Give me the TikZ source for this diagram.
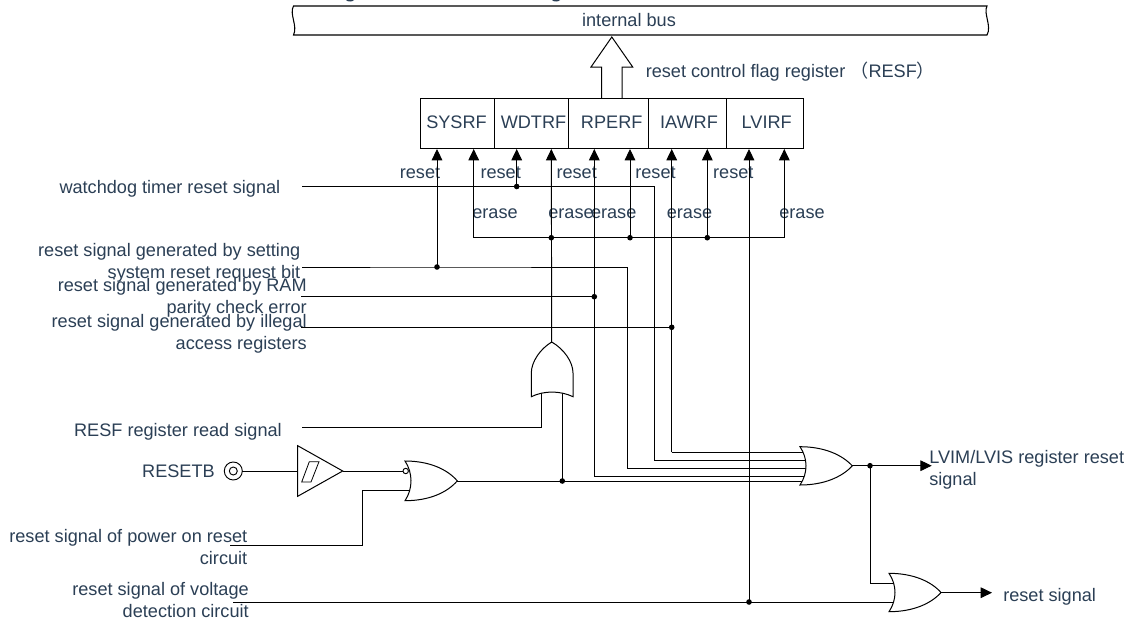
\documentclass[tikz,border=0pt]{standalone}
\usepackage{fontspec}
\setmainfont{Liberation Sans}
\newfontfamily\cjkfont{Noto Sans CJK SC}
\usetikzlibrary{arrows.meta,calc}
\definecolor{txt}{HTML}{2B3F55}
\newcommand{\orgateH}[4]{% xleft, ytop, ybottom, xapex
  \draw[gate] (#1,#2) .. controls ({#1+24},#2) and ({#1+42},{#2+8}) .. (#4,{(#2+#3)/2})
    .. controls ({#1+42},{#3-8}) and ({#1+24},#3) .. (#1,#3)
    .. controls ({#1+8},{#3-12}) and ({#1+8},{#2+12}) .. (#1,#2) -- cycle;}
\tikzset{
  x=0.75pt,y=-0.75pt,
  wire/.style={draw=black,line width=0.7pt},
  arrowwire/.style={wire,-{Triangle[length=8.5pt,width=8pt]}},
  gate/.style={draw=black,line width=0.75pt,fill=white},
  dotj/.style={circle,fill=black,inner sep=0pt,minimum size=4.2pt},
  lab/.style={inner sep=0pt,text=txt,font=\fontsize{13.6}{16.5}\selectfont},
  labr/.style={lab,anchor=east,align=right},
  labl/.style={lab,anchor=west,align=left},
  labc/.style={lab,anchor=center},
}
\begin{document}
\begin{tikzpicture}
\useasboundingbox (0,0) rectangle (1137,621);
\fill[white] (0,0) rectangle (1137,621);

% clipped remains of a heading at the top edge
\fill[txt] (346,0) .. controls (347,2) and (353,2) .. (354,0) -- cycle;
\fill[txt] (552,0) .. controls (553,2) and (559,2) .. (560,0) -- cycle;

% bus
\draw[line width=0.8pt,fill=white] (293.5,6) -- (987,6)
  .. controls (983,13) and (992,26) .. (987,35) -- (293.5,35)
  .. controls (298,26) and (289,14) .. (293.5,6) -- cycle;
\node[labc] (bus) at (629,20) {internal bus};

% block arrow
\draw[line width=0.75pt,fill=white] (601.7,98) -- (601.7,67) -- (591,67) -- (611.8,37)
  -- (632.7,67) -- (622,67) -- (622,98);
\node[labl] (rcf) at (645.5,72) {reset control flag register {\cjkfont （}RESF{\cjkfont ）}};

% register
\draw[wire] (420.3,98) rectangle (803.7,148.7);
\foreach \xx in {494,568.7,648.7,726} \draw[wire] (\xx,98) -- (\xx,148.7);
\node[labc] (sysrf) at (456.5,122) {SYSRF};
\node[labc] (wdtrf) at (533.5,122) {WDTRF};
\node[labc] (rperf) at (611.7,122) {RPERF};
\node[labc] (iawrf) at (689,122) {IAWRF};
\node[labc] (lvirf) at (766.7,122) {LVIRF};

% register pins
\coordinate (pA) at (437,149);
\coordinate (pB) at (473.7,149);
\coordinate (pC) at (516.7,149);
\coordinate (pD) at (551.3,149);
\coordinate (pE) at (594.3,149);
\coordinate (pF) at (630,149);
\coordinate (pG) at (671.7,149);
\coordinate (pH) at (707.3,149);
\coordinate (pI) at (749,149);
\coordinate (pJ) at (784.3,149);

% reset / erase labels
\foreach \xx in {420,500.7,576.7,655.5,733.3} \node[labc] at (\xx,173) {reset};
\foreach \xx in {495,571,613.7,689.5,802} \node[labc] at (\xx,213.5) {erase};

% signal labels
\node[labr] (lwd) at (280.5,189) {watchdog timer reset signal};
\node[labr] (lsys) at (300.5,263) {reset signal generated by setting\\system reset request bit};
\node[labr] (lram) at (307,298) {reset signal generated by RAM\\parity check error};
\node[labr] (lill) at (307,334) {reset signal generated by illegal\\access registers};
\node[labr] (lrd) at (282,432) {RESF register read signal};
\node[labr] (lrb) at (215,471) {RESETB};
\node[labr] (lpor) at (247.5,547.5) {reset signal of power on reset\\circuit};
\node[labr] (lvd) at (249,600) {reset signal of voltage\\detection circuit};
\node[labl] (llvim) at (929,470) {LVIM/LVIS register reset\\signal};
\node[labl] (lrs) at (1003,597) {reset signal};

% start points
\coordinate (sWd) at (302,186.5);
\coordinate (sSys) at (302,267);
\coordinate (sRam) at (301,296.7);
\coordinate (sIll) at (301,327.3);
\coordinate (sRd) at (302,427.3);
\coordinate (sPor) at (230,545);
\coordinate (sVd) at (233,602);

% junctions
\coordinate (jWd) at (516.7,186.5);
\coordinate (jSys) at (437,267);
\coordinate (jRam) at (594.3,296.7);
\coordinate (jIll) at (671.7,327.3);
\coordinate (jE0) at (473.7,237.7);
\coordinate (jE1) at (551.3,237.7);
\coordinate (jE2) at (630,237.7);
\coordinate (jE3) at (707.3,237.7);
\coordinate (jE4) at (784.3,237.7);
\coordinate (jOut) at (562.3,481);
\coordinate (jMain) at (870,465.7);
\coordinate (jVd) at (749,602);

% gate pins
\coordinate (oTop) at (551.7,342);
\coordinate (oL) at (541.7,393);
\coordinate (oR) at (562.3,393);
\coordinate (nIn1) at (403,471);
\coordinate (nIn2) at (409.5,490.7);
\coordinate (nOut) at (457.3,481);
\coordinate (mA) at (803,452.3);
\coordinate (mB) at (805,460.7);
\coordinate (mC) at (805.5,468.3);
\coordinate (mD) at (805,476);
\coordinate (mE) at (803,481);
\coordinate (mOut) at (852.3,465.7);
\coordinate (tIn1) at (892.5,583);
\coordinate (tIn2) at (892.5,602);
\coordinate (tOut) at (941,592.7);
\coordinate (aLvim) at (931.7,465.7);
\coordinate (aRs) at (992,592.7);
\coordinate (rb) at (242.3,471);
\coordinate (bufIn) at (297.7,471);
\coordinate (bufOut) at (342.7,471);

% wires to register
\draw[wire] (sWd) -- (jWd) -- (654.3,186.5) |- (mB);
\draw[arrowwire] (jWd) -- (pC);
\draw[wire] (sSys) -- (jSys) -- (627.3,267) |- (mC);
\draw[arrowwire] (jSys) -- (pA);
\draw[wire] (sRam) -- (jRam);
\draw[arrowwire] (jRam |- mD) -- (pE);
\draw[wire] (jRam |- mD) -- (mD);
\draw[wire] (sIll) -- (jIll);
\draw[arrowwire] (jIll |- mA) -- (pG);
\draw[wire] (jIll |- mA) -- (mA);
\draw[wire] (jE0) -- (jE4);
\draw[arrowwire] (jE0) -- (pB);
\draw[arrowwire] (jE2) -- (pF);
\draw[arrowwire] (jE3) -- (pH);
\draw[arrowwire] (jE4) -- (pJ);
\draw[arrowwire] (oTop) -- (pD);
\draw[arrowwire] (jVd) -- (pI);
\draw[wire] (sVd) -- (tIn2);

% OR gate (vertical)
\draw[wire] (sRd) -| (oL);
\draw[wire] (jOut) -- (oR);
\draw[gate] (551.7,342) .. controls (564,349) and (573,362) .. (573,373) -- (573,396.7)
  .. controls (560,390.5) and (544,390.5) .. (531.3,396.7) -- (531.3,373)
  .. controls (531.3,362) and (540,349) .. (551.7,342) -- cycle;

% RESETB and buffer
\draw[wire] (233.3,471) circle (4pt*0.75);
\draw[wire] (233.3,471) circle (9pt*0.75);
\draw[wire] (rb) -- (bufIn);
\draw[gate] (297.7,445.7) -- (342.7,471) -- (297.7,496.3) -- cycle;
\draw[line width=0.6pt] (309.3,461.7) -- (319,461.7) -- (311,482) -- (301.7,482) -- cycle;
\draw[wire] (bufOut) -- (nIn1);
\draw[wire] (nIn2) -- (362,490.7) |- (sPor);

% NOR gate
\draw[wire] (nOut) -- (mE);
\orgateH{405}{461}{500.7}{457.3}
\draw[wire,fill=white] (405.7,471) circle (2.7*0.75pt);

% Main OR gate
\orgateH{800}{446.7}{485}{852.3}
\draw[wire] (mOut) -- (jMain);
\draw[arrowwire] (jMain) -- (aLvim);
\draw[wire] (jMain) |- (tIn1);

% second OR gate
\orgateH{889}{573.3}{611.7}{941}
\draw[arrowwire] (tOut) -- (aRs);

% dots
\foreach \j in {jWd,jSys,jRam,jIll,jE1,jE2,jE3,jOut,jMain,jVd}
  \node[dotj] at (\j) {};
\end{tikzpicture}
\end{document}
